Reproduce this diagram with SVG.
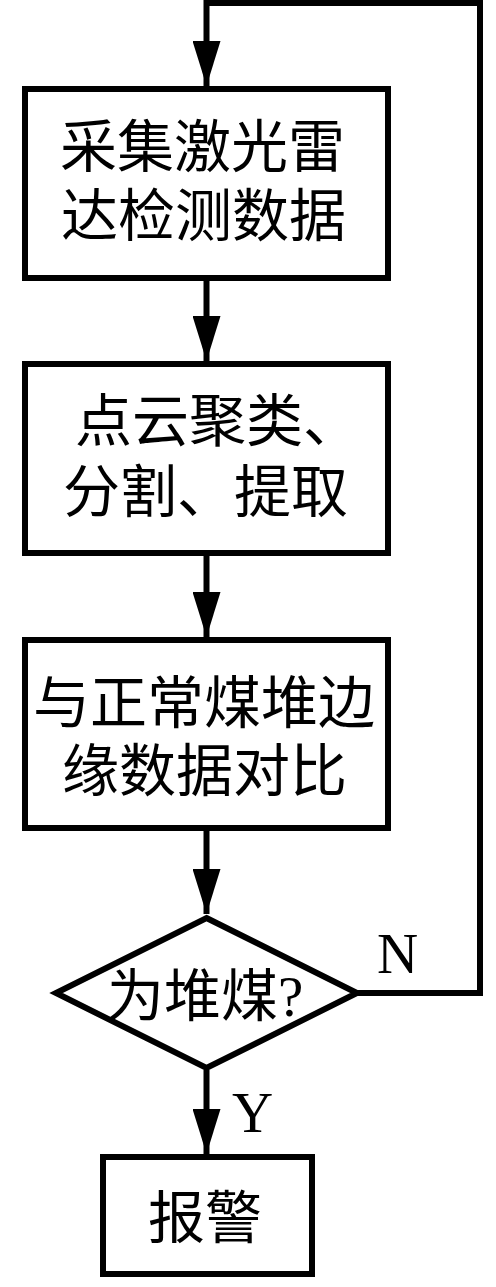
<svg xmlns="http://www.w3.org/2000/svg" width="496" height="1287" viewBox="0 0 496 1287">
<style>
.box{fill:#fff;stroke:#000;stroke-width:6}
.ln{fill:none;stroke:#000;stroke-width:6;stroke-linejoin:miter}
.t{font-family:"Liberation Serif","Noto Sans CJK SC",serif;font-size:57px;fill:#000}
.lbl{font-family:"Liberation Serif",serif;font-size:57px;fill:#000}
</style>
<defs>
<marker id="ah" markerUnits="userSpaceOnUse" viewBox="0 -14 45 28" markerWidth="45" markerHeight="28" refX="45" refY="0" orient="auto">
<path d="M0,-14 L45,0 L0,14 Z" fill="#000"/>
</marker>
</defs>
<rect width="496" height="1287" fill="#fff"/>
<g id="connectors">
<path class="ln" d="M357,993 H480 V3 H206.5 V86" marker-end="url(#ah)"/>
<path class="ln" d="M206.5,281 V361" marker-end="url(#ah)"/>
<path class="ln" d="M206.5,556 V637" marker-end="url(#ah)"/>
<path class="ln" d="M206.5,831 V914" marker-end="url(#ah)"/>
<path class="ln" d="M206.5,1070 V1154" marker-end="url(#ah)"/>
<text class="lbl" x="377" y="973">N</text>
<text class="lbl" x="232" y="1132">Y</text>
</g>
<g id="n1">
<rect class="box" x="25" y="89" width="363" height="189"/>
<text class="t" x="60" y="167">采集激光雷</text>
<text class="t" x="61" y="236">达检测数据</text>
</g>
<g id="n2">
<rect class="box" x="25" y="364" width="363" height="189"/>
<text class="t" x="75" y="441">点云聚类、</text>
<text class="t" x="63" y="512">分割、提取</text>
</g>
<g id="n3">
<rect class="box" x="25" y="640" width="363" height="188"/>
<text class="t" x="33" y="723">与正常煤堆边</text>
<text class="t" x="62" y="791">缘数据对比</text>
</g>
<g id="n4">
<polygon class="box" points="206.5,918 357,993 206.5,1068 56,993"/>
<text class="t" x="107" y="1016">为堆煤?</text>
</g>
<g id="n5">
<rect class="box" x="103" y="1157" width="209" height="117"/>
<text class="t" x="148" y="1238">报警</text>
</g>
</svg>
